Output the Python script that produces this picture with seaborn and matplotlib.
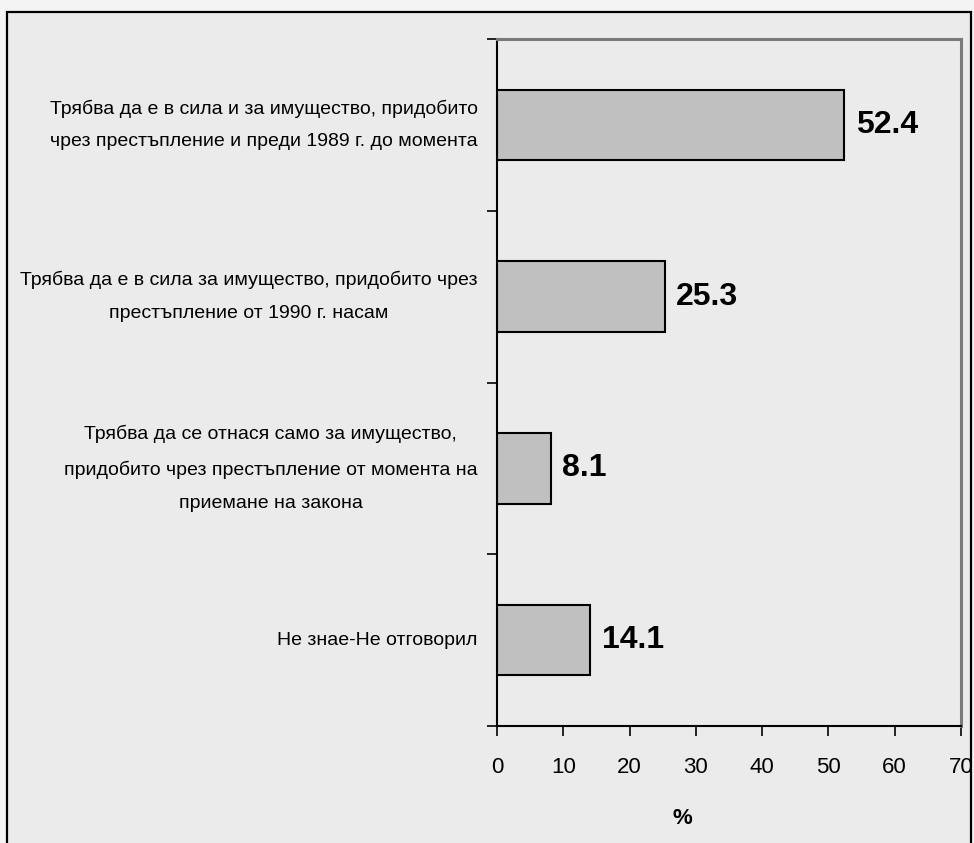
import matplotlib
matplotlib.use('Agg')
import matplotlib.pyplot as plt
import seaborn as sns
from matplotlib import font_manager
from matplotlib.patches import Rectangle

categories = [
    "Трябва да е в сила и за имущество, придобито\nчрез престъпление и преди 1989 г. до момента",
    "Трябва да е в сила за имущество, придобито чрез\nпрестъпление от 1990 г. насам",
    "Трябва да се отнася само за имущество,\nпридобито чрез престъпление от момента на\nприемане на закона",
    "Не знае-Не отговорил",
]
values = [52.4, 25.3, 8.1, 14.1]
x_ticks = [0, 10, 20, 30, 40, 50, 60, 70]
x_label = "%"

sns.set_theme(style='white')
names = {f.name for f in font_manager.fontManager.ttflist}
narrow = 'Liberation Sans Narrow' if 'Liberation Sans Narrow' in names else 'Liberation Sans'
plt.rcParams['font.family'] = [narrow, 'DejaVu Sans']

W, H = 974, 843
fig = plt.figure(figsize=(W / 100, H / 100), dpi=100, facecolor='#f4f4f4')

# outer frame
frame = Rectangle((7 / W, -0.05), (971 - 7) / W, 1.05 - 11.5 / H,
                  transform=fig.transFigure, facecolor='#ebebeb',
                  edgecolor='black', linewidth=1.6, zorder=-1)
fig.patches.append(frame)

ax = fig.add_axes([497 / W, 1 - 726 / H, (961 - 497) / W, (726 - 39) / H])
ax.set_facecolor('none')

sns.barplot(x=values, y=categories, orient='h', color='#c0c0c0',
            edgecolor='black', linewidth=1.5, width=0.41, saturation=1, ax=ax)

for i, v in enumerate(values):
    ax.text(v + 1.7, i, f'{v}', va='center', ha='left',
            fontsize=23, fontweight='bold', color='black')

ax.set_xlim(0, 70)
ax.set_ylim(3.5, -0.5)
ax.set_xticks(x_ticks)
ax.set_xticklabels([str(t) for t in x_ticks], fontsize=16, color='black')
ax.tick_params(axis='x', which='major', bottom=True, length=7, width=1.2,
               color='black', pad=15, direction='out')

ax.set_yticks(range(len(categories)))
ax.set_yticklabels(categories, fontsize=14, color='black')
ax.set_yticks([-0.5, 0.5, 1.5, 2.5, 3.5], minor=True)
ax.tick_params(axis='y', which='major', left=False, length=0, pad=14)
ax.tick_params(axis='y', which='minor', left=True, length=7, width=1.2,
               color='black', direction='out')
for lab in ax.get_yticklabels():
    lab.set_multialignment('center')
    lab.set_verticalalignment('center')
    lab.set_linespacing(2.2)

ax.set_xlabel(x_label, fontsize=16, fontweight='bold', color='black')
ax.xaxis.set_label_coords(0.40, -0.12)
ax.set_ylabel('')

for s in ['left', 'bottom']:
    ax.spines[s].set_color('black')
    ax.spines[s].set_linewidth(1.5)
for s in ['top', 'right']:
    ax.spines[s].set_visible(True)
    ax.spines[s].set_color('#7a7a7a')
    ax.spines[s].set_linewidth(2.2)

fig.savefig('out.png', dpi=100, facecolor=fig.get_facecolor())
